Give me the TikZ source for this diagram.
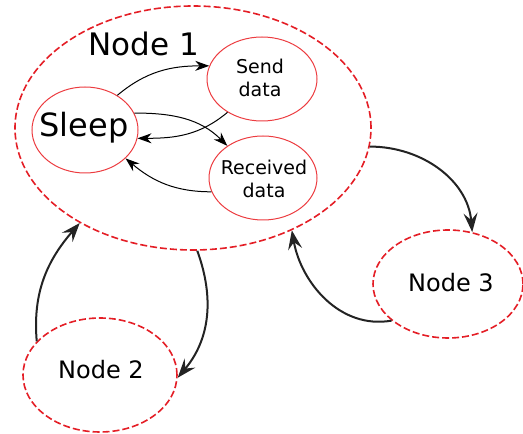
\documentclass[tikz,border=0pt]{standalone}
\usepackage{fontspec}
\setmainfont{DejaVu Sans}
\usetikzlibrary{shapes.geometric,arrows.meta}
\definecolor{outerred}{RGB}{228,30,38}
\definecolor{innerred}{RGB}{236,60,64}
\definecolor{arrowgray}{RGB}{35,35,35}
\tikzset{
  outerstate/.style={ellipse, draw=outerred, line width=1.6pt,
    dash pattern=on 7pt off 3pt, inner sep=0pt},
  innerstate/.style={ellipse, draw=innerred, line width=1pt, inner sep=0pt},
  bigarrow/.style={draw=arrowgray, line width=2pt,
    -{Stealth[length=19pt,width=14pt,inset=7pt]}},
  smallarrow/.style={draw=black, line width=1pt,
    -{Stealth[length=14pt,width=10pt,inset=4.5pt]}},
  lbl/.style={inner sep=0pt, align=center},
}
\begin{document}
\begin{tikzpicture}[x=1pt,y=1pt]
\useasboundingbox (0,0) rectangle (523,434);
% outer nodes
\node[outerstate, minimum width=356pt, minimum height=244pt] (n1) at (193,306) {};
\node[outerstate, minimum width=150pt, minimum height=108pt] (n3) at (448,150) {};
\node[outerstate, minimum width=154pt, minimum height=114pt] (n2) at (100,59) {};
% states inside node 1
\node[innerstate, minimum width=106pt, minimum height=86pt] (sleep) at (85,304) {};
\node[innerstate, minimum width=110pt, minimum height=84pt] (send) at (262,355) {};
\node[innerstate, minimum width=108pt, minimum height=84pt] (recv) at (263,256) {};
% labels
\node[lbl, font=\fontsize{31}{37}\selectfont] (t1) at (144,390) {Node 1};
\node[lbl, font=\fontsize{32}{37}\selectfont] (tsleep) at (84,306) {Sleep};
\node[lbl, font=\fontsize{19}{23.5}\selectfont] (tsend) at (260,356) {Send\\data};
\node[lbl, font=\fontsize{19}{23.5}\selectfont] (trecv) at (264,255) {Received\\data};
\node[lbl, font=\fontsize{24}{28}\selectfont] (t3) at (451,151) {Node 3};
\node[lbl, font=\fontsize{24}{28}\selectfont] (t2) at (101,64) {Node 2};
% transitions inside node 1
\draw[smallarrow] (sleep.47) to[out=40, in=180] (send.166);
\draw[smallarrow] (send.224) to[out=220, in=0] (sleep.-9);
\draw[smallarrow] (sleep.19) to[out=0, in=135] (recv.138);
\draw[smallarrow] (recv.195) to[out=180, in=-40] (sleep.-35);
% links between nodes
\draw[bigarrow] (n1.-6.4) to[out=0, in=95] (n3.65);
\draw[bigarrow] (n3.213) to[out=190, in=-80] (n1.-46);
\draw[bigarrow] (n1.-88) to[out=-70, in=50] (n2.-2);
\draw[bigarrow] (n2.152) to[out=95, in=229] (n1.220.6);
\end{tikzpicture}
\end{document}
